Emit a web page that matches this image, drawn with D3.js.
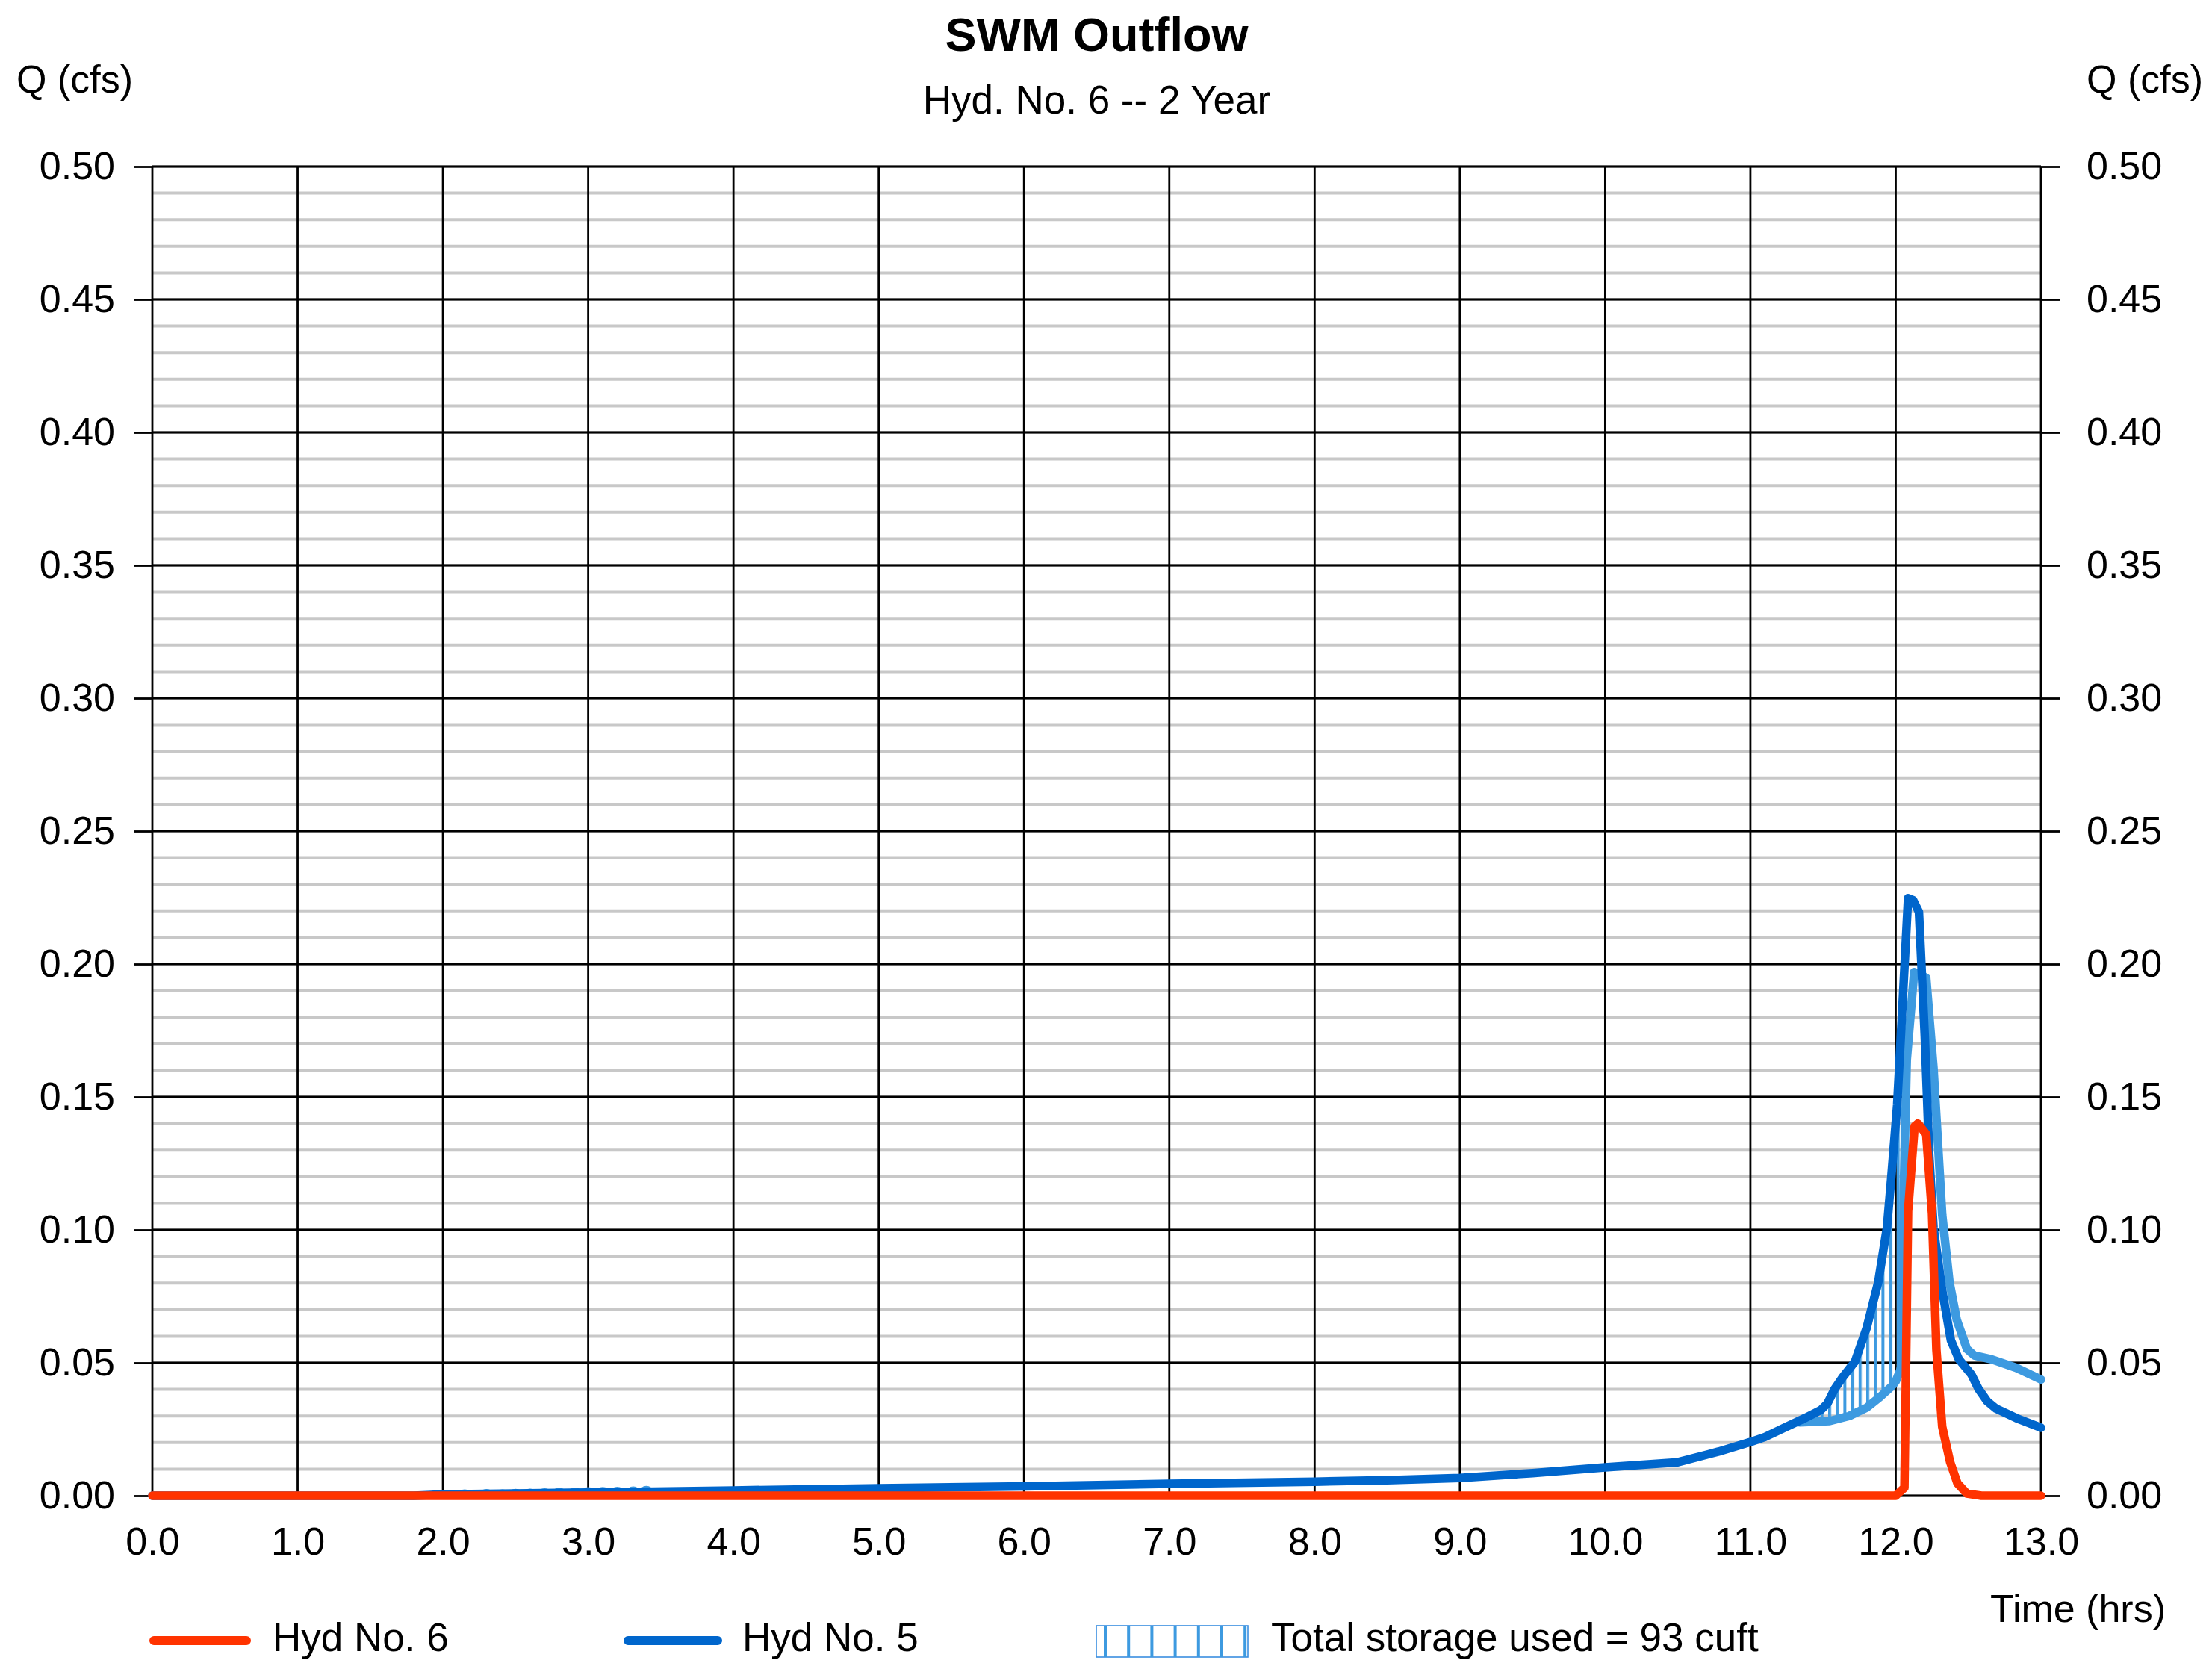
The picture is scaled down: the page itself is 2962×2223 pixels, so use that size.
<!DOCTYPE html>
<html>
<head>
<meta charset="utf-8">
<script src="https://cdn.jsdelivr.net/npm/d3@7"></script>
<style>
  html, body { margin: 0; padding: 0; background: #fff; }
  svg { display: block; font-family: "Liberation Sans", Arial, sans-serif; }
</style>
</head>
<body>
<svg id="chart" width="2962" height="2223"></svg>
<script>
// Hydrograph series (time in hrs, flow in cfs)
const hyd6Time = [0, 12.0, 12.06, 12.085, 12.13, 12.153, 12.21, 12.25, 12.28, 12.32, 12.375, 12.425, 12.49, 12.59, 13.0];
const hyd6Flow = [0, 0, 0.003, 0.107, 0.139, 0.140, 0.136, 0.106, 0.055, 0.026, 0.0126, 0.0047, 0.0008, 0, 0];

const hyd5Time = [0, 1.8, 2.0, 3.0, 4.0, 5.0, 6.0, 7.0, 8.0, 8.5, 9.0, 9.5, 10.0, 10.5, 10.78, 11.0, 11.1, 11.22, 11.375,
  11.486, 11.53, 11.58, 11.63, 11.72, 11.80, 11.88, 11.94, 11.97, 12.01, 12.05, 12.085, 12.12, 12.16, 12.2, 12.23,
  12.26, 12.32, 12.38, 12.435, 12.52, 12.57, 12.63, 12.69, 12.83, 13.0];
const hyd5Flow = [0, 0, 0.0005, 0.0012, 0.002, 0.0028, 0.0035, 0.0045, 0.0053, 0.0058, 0.0067, 0.0085, 0.0107, 0.0126,
  0.0166, 0.0202, 0.0221, 0.0252, 0.0292, 0.0323, 0.0347, 0.0402, 0.0442, 0.0505, 0.0631, 0.0804, 0.101, 0.120,
  0.147, 0.188, 0.2248, 0.224, 0.2196, 0.173, 0.129, 0.101, 0.0773, 0.0584, 0.0513, 0.0457, 0.0402, 0.0355, 0.0328,
  0.0292, 0.0256];

// Routed boundary of the storage band
const routedTime = [11.34, 11.545, 11.68, 11.80, 11.89, 11.97, 12.0, 12.03, 12.045, 12.055, 12.076, 12.127, 12.21, 12.26,
  12.32, 12.37, 12.42, 12.49, 12.54, 12.66, 12.83, 13.0];
const routedFlow = [0.0276, 0.0281, 0.030, 0.0331, 0.0371, 0.0410, 0.0430, 0.0470, 0.0500, 0.1136, 0.164, 0.197, 0.1948,
  0.161, 0.1057, 0.0804, 0.0662, 0.0552, 0.0528, 0.0513, 0.0481, 0.0437];

// Small early storage ripples (time, crest flow)
const rippleTime = [1.95, 2.15, 2.30, 2.41, 2.50, 2.60, 2.70, 2.80, 2.91, 3.00, 3.10, 3.20, 3.31, 3.40];
const rippleCrest = [0.0021, 0.0024, 0.0025, 0.0024, 0.0026, 0.0027, 0.0028, 0.0030, 0.0031, 0.0032, 0.0033, 0.0034, 0.0035, 0.0037];

const storageStart = 11.36, storageEnd = 12.045;

const xTicks = [0, 1, 2, 3, 4, 5, 6, 7, 8, 9, 10, 11, 12, 13];
const yTicks = [0, 0.05, 0.10, 0.15, 0.20, 0.25, 0.30, 0.35, 0.40, 0.45, 0.50];
const yMinor = d3.range(0, 51).map(i => i / 100);

const legendItems = ["Hyd No. 6", "Hyd No. 5", "Total storage used = 93 cuft"];

const colRed = "#ff3300", colBlue = "#0066cc", colLight = "#3d9ae0";
const lineW = 11.5;

const svg = d3.select("#chart");
const plotL = 204, plotR = 2733, plotT = 223, plotB = 2003;
const x = d3.scaleLinear().domain([0, 13]).range([plotL, plotR]);
const y = d3.scaleLinear().domain([0, 0.5]).range([plotB, plotT]);

// minor horizontal grid
svg.append("g").selectAll("line").data(yMinor).join("line")
  .attr("x1", plotL).attr("x2", plotR)
  .attr("y1", d => y(d)).attr("y2", d => y(d))
  .attr("stroke", "#c8c8c8").attr("stroke-width", 4);

// vertical grid
svg.append("g").selectAll("line").data(xTicks).join("line")
  .attr("x1", d => x(d)).attr("x2", d => x(d))
  .attr("y1", plotT).attr("y2", plotB)
  .attr("stroke", "#000").attr("stroke-width", 2.8);

// major horizontal grid
svg.append("g").selectAll("line").data(yTicks).join("line")
  .attr("x1", plotL).attr("x2", plotR)
  .attr("y1", d => y(d)).attr("y2", d => y(d))
  .attr("stroke", "#000").attr("stroke-width", 2.8);

// axes
const fmt = d3.format(".2f");
const axL = svg.append("g").attr("transform", `translate(${plotL},0)`)
  .call(d3.axisLeft(y).tickValues(yTicks).tickFormat(fmt).tickSize(25).tickPadding(25));
const axR = svg.append("g").attr("transform", `translate(${plotR},0)`)
  .call(d3.axisRight(y).tickValues(yTicks).tickFormat(fmt).tickSize(25).tickPadding(36));
const axB = svg.append("g").attr("transform", `translate(0,${plotB})`)
  .call(d3.axisBottom(x).tickValues(xTicks).tickFormat(d3.format(".1f")).tickSize(0).tickPadding(42));
[axL, axR, axB].forEach(a => {
  a.select(".domain").remove();
  a.selectAll(".tick line").attr("stroke", "#000").attr("stroke-width", 2.8);
  a.selectAll(".tick text").attr("font-size", 52).attr("fill", "#000")
    .attr("font-family", "'Liberation Sans', Arial, sans-serif");
});

// storage hatch between inflow and routed curve
const defs = svg.append("defs");
const hatchStep = 10.2;
const hatch = defs.append("pattern").attr("id", "storageHatch")
  .attr("patternUnits", "userSpaceOnUse")
  .attr("width", hatchStep).attr("height", 40)
  .attr("x", x(0));
hatch.append("rect").attr("x", 0).attr("y", 0).attr("width", 4).attr("height", 40).attr("fill", colLight);

function interp(ts, vs, t) {
  const i = d3.bisectRight(ts, t);
  if (i <= 0) return vs[0];
  if (i >= ts.length) return vs[vs.length - 1];
  const f = (t - ts[i - 1]) / (ts[i] - ts[i - 1]);
  return vs[i - 1] + f * (vs[i] - vs[i - 1]);
}
const upper = [[storageStart, interp(hyd5Time, hyd5Flow, storageStart)]]
  .concat(hyd5Time.map((t, i) => [t, hyd5Flow[i]]).filter(d => d[0] > storageStart && d[0] < storageEnd))
  .concat([[storageEnd, interp(hyd5Time, hyd5Flow, storageEnd)]]);
const lower = [[storageStart, interp(routedTime, routedFlow, storageStart)]]
  .concat(routedTime.map((t, i) => [t, routedFlow[i]]).filter(d => d[0] > storageStart && d[0] < storageEnd))
  .concat([[storageEnd, interp(routedTime, routedFlow, storageEnd)]]);
const poly = upper.concat(lower.slice().reverse());
svg.append("path")
  .attr("d", d3.line().x(d => x(d[0])).y(d => y(d[1]))(poly) + "Z")
  .attr("fill", "url(#storageHatch)");

// early ripples sit on the inflow line
svg.append("g").selectAll("ellipse").data(rippleTime).join("ellipse")
  .attr("cx", d => x(d))
  .attr("cy", d => y(interp(hyd5Time, hyd5Flow, d)))
  .attr("rx", 9)
  .attr("ry", (d, i) => y(interp(hyd5Time, hyd5Flow, d)) - y(rippleCrest[i]))
  .attr("fill", colLight);

const line = d3.line().x(d => x(d[0])).y(d => y(d[1]));
function drawSeries(ts, vs, color) {
  svg.append("path")
    .attr("d", line(ts.map((t, i) => [t, vs[i]])))
    .attr("fill", "none").attr("stroke", color).attr("stroke-width", lineW)
    .attr("stroke-linejoin", "round").attr("stroke-linecap", "round");
}
drawSeries(routedTime, routedFlow, colLight);
drawSeries(hyd5Time, hyd5Flow, colBlue);
drawSeries(hyd6Time, hyd6Flow, colRed);

// titles and axis labels
const txt = (s, xx, yy, size, anchor, weight) => svg.append("text")
  .attr("x", xx).attr("y", yy).attr("font-size", size)
  .attr("text-anchor", anchor || "start").attr("font-weight", weight || "normal")
  .attr("fill", "#000").text(s);
txt("SWM Outflow", (plotL + plotR) / 2, 68, 63, "middle", "bold");
txt("Hyd. No. 6 -- 2 Year", (plotL + plotR) / 2, 152, 53, "middle");
txt("Q (cfs)", 22, 124, 52, "start");
txt("Q (cfs)", 2950, 124, 52, "end");
txt("Time (hrs)", 2900, 2172, 52, "end");

// legend
const legY = 2197, legBase = 2211;
svg.append("line").attr("x1", 206).attr("x2", 330).attr("y1", legY).attr("y2", legY)
  .attr("stroke", colRed).attr("stroke-width", 12).attr("stroke-linecap", "round");
txt(legendItems[0], 365, legBase, 53);
svg.append("line").attr("x1", 841).attr("x2", 961).attr("y1", legY).attr("y2", legY)
  .attr("stroke", colBlue).attr("stroke-width", 12).attr("stroke-linecap", "round");
txt(legendItems[1], 994, legBase, 53);
const bx = 1468, bw = 203, by = 2177, bh = 42;
const lg = svg.append("g");
lg.append("rect").attr("x", bx).attr("y", by).attr("width", bw).attr("height", bh)
  .attr("fill", "none").attr("stroke", "#3a8ee0").attr("stroke-width", 1.6);
lg.selectAll("line").data(d3.range(0, 7)).join("line")
  .attr("x1", d => bx + 12 + d * 31.2).attr("x2", d => bx + 12 + d * 31.2)
  .attr("y1", by).attr("y2", by + bh)
  .attr("stroke", colLight).attr("stroke-width", 4);
txt(legendItems[2], 1702, legBase, 53);
</script>
</body>
</html>
